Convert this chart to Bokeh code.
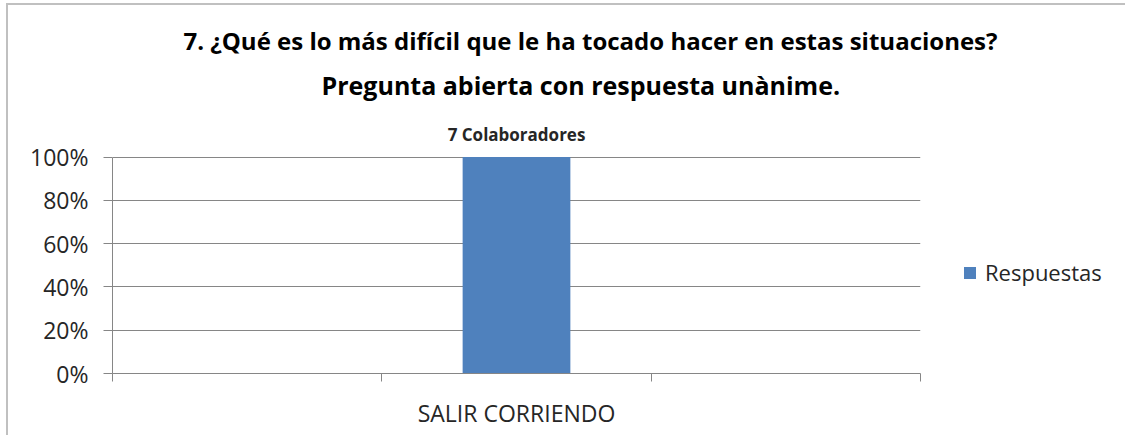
from bokeh.plotting import figure
from bokeh.models import (Range1d, FixedTicker, NumeralTickFormatter, Legend, LegendItem, Title,
                          ColumnDataSource)
from bokeh.core.properties import value
from bokeh.embed import file_html
from bokeh.resources import INLINE

# ---- data ----
title_lines = ["7. ¿Qué es lo más difícil que le ha tocado hacer en estas situaciones?",
               "Pregunta abierta con respuesta unànime."]
slots = ["", "SALIR CORRIENDO", ""]          # category slots on the x axis
categories = ["SALIR CORRIENDO"]
values = [1.0]
data_labels = ["7 Colaboradores"]
series_name = "Respuestas"
y_ticks = [0, 0.2, 0.4, 0.6, 0.8, 1.0]

FONT = "Open Sans"
GRAY = "#868686"
TEXT = "#262626"
BLUE = "#4f81bd"

n_slots = len(slots)
cat_pos = [slots.index(c) + 0.5 for c in categories]

p = figure(frame_width=808, frame_height=251,
           x_range=Range1d(0, n_slots), y_range=Range1d(0, 1.16),
           title_location=None, output_backend="svg", toolbar_location=None,
           min_border_left=104, min_border_right=200, min_border_top=117, min_border_bottom=62)
p.styles = {"border-top": "2px solid #c0c0c0", "border-left": "2px solid #c0c0c0",
            "margin-left": "6px", "margin-top": "3px"}
p.outline_line_color = None
p.background_fill_color = "white"
p.border_fill_color = "white"

# y axis
yax = p.yaxis[0]
yax.ticker = FixedTicker(ticks=y_ticks)
yax.formatter = NumeralTickFormatter(format="0%")
yax.bounds = (0, 1)
yax.axis_line_color = GRAY
yax.major_tick_line_color = GRAY
yax.major_tick_out = 9
yax.major_tick_in = 0
yax.minor_tick_line_color = None
yax.major_label_text_font = FONT
yax.major_label_text_font_size = "23px"
yax.major_label_text_color = TEXT
yax.major_label_standoff = 15

p.xgrid.visible = False
p.ygrid.ticker = FixedTicker(ticks=y_ticks)
p.ygrid.grid_line_color = GRAY

# x axis: tick marks at slot boundaries, labels at slot centres
xax = p.xaxis[0]
xax.ticker = FixedTicker(ticks=cat_pos, minor_ticks=list(range(n_slots + 1)))
xax.major_label_overrides = {pos: c for pos, c in zip(cat_pos, categories)}
xax.major_tick_line_color = None
xax.minor_tick_line_color = GRAY
xax.minor_tick_out = 8
xax.minor_tick_in = 0
xax.axis_line_color = GRAY
xax.major_label_text_font = FONT
xax.major_label_text_font_size = "23px"
xax.major_label_text_color = TEXT
xax.major_label_standoff = 15

src = ColumnDataSource(dict(x=cat_pos, val=values, lab=data_labels))
bars = p.vbar(x="x", top="val", width=0.4, source=src, fill_color=BLUE, line_color=None)
p.text(x="x", y="val", text="lab", source=src, text_align="center", text_baseline="bottom",
       y_offset=-11, text_font=value(FONT), text_font_style="bold", text_font_size="17px",
       text_color=TEXT)

legend = Legend(items=[LegendItem(label=series_name, renderers=[bars])], location=(42, 86),
                margin=0, padding=0, border_line_color=None, background_fill_alpha=0,
                glyph_width=15, glyph_height=15, label_text_font=FONT, label_text_font_size="22px",
                label_text_color=TEXT, label_standoff=8, label_height=15)
p.add_layout(legend, "right")

t2 = Title(text=title_lines[1], align="left", offset=209, text_font=FONT, text_font_size="25px",
           text_font_style="bold", text_color="#000000", standoff=41)
t1 = Title(text=title_lines[0], align="left", offset=71, text_font=FONT, text_font_size="24px",
           text_font_style="bold", text_color="#000000", standoff=-23)
p.add_layout(t2, "above")
p.add_layout(t1, "above")

open("out.html", "w").write(file_html(p, INLINE))
